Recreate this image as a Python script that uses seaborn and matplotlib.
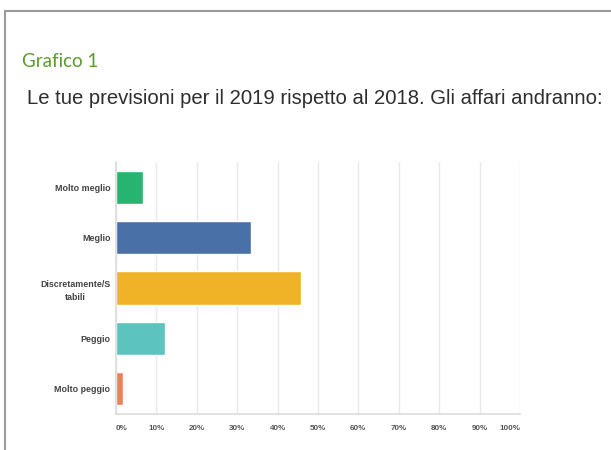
import matplotlib
matplotlib.use("Agg")
import matplotlib.pyplot as plt
import seaborn as sns
import pandas as pd
from matplotlib.lines import Line2D

categories = ["Molto meglio", "Meglio", "Discretamente/S\ntabili", "Peggio", "Molto peggio"]
values = [6.7, 33.4, 45.7, 12.1, 1.8]
colors = ["#27b470", "#4a70a8", "#f0b226", "#5cc3bf", "#e8835b"]
xticks = [0, 10, 20, 30, 40, 50, 60, 70, 80, 90, 100]
xticklabels = [f"{t}%" for t in xticks]

df = pd.DataFrame({"cat": categories, "val": values})

sns.set_theme(style="white")
plt.rcParams["font.family"] = ["Liberation Sans", "DejaVu Sans"]

fig = plt.figure(figsize=(6.11, 4.5), dpi=100)
ax = fig.add_axes([116/611, 1-414/450, 404/611, 252/450])

sns.barplot(data=df, x="val", y="cat", hue="cat", palette=colors, legend=False,
            width=0.66, ax=ax, saturation=1, orient="h")

ax.set_xlim(0, 100)
ax.set_ylim(4.5, -0.5)
ax.set_xticks(xticks)
ax.set_xticklabels(xticklabels, fontsize=5.8, fontweight="bold", color="#555555")
xl = ax.get_xticklabels()
xl[0].set_horizontalalignment("left")
xl[-1].set_horizontalalignment("right")
ax.tick_params(axis="y", labelsize=6.4, labelcolor="#444444", length=0, pad=4)
ax.tick_params(axis="x", length=0, pad=8)
for lbl in ax.get_yticklabels():
    lbl.set_fontweight("bold")
    lbl.set_multialignment("center")
    lbl.set_linespacing(1.6)
ax.set_xlabel("")
ax.set_ylabel("")
ax.grid(axis="x", color="#e9e9e9", linewidth=1)
ax.set_axisbelow(True)
for s in ["top", "right"]:
    ax.spines[s].set_visible(False)
ax.spines["left"].set_color("#dddddd")
ax.spines["bottom"].set_color("#dddddd")

fig.text(22/611, 1-67/450, "Grafico 1", fontsize=13.5, color="#5a9a2e",
         family=["Lato", "DejaVu Sans"])
fig.text(27/611, 1-104/450, "Le tue previsioni per il 2019 rispetto al 2018. Gli affari andranno:",
         fontsize=14.6, color="#2e2e2e")

fig.add_artist(Line2D([5/611, 1], [1-11/450, 1-11/450], transform=fig.transFigure,
                      color="#9a9a9a", linewidth=1.5))
fig.add_artist(Line2D([5/611, 5/611], [0, 1-11/450], transform=fig.transFigure,
                      color="#9a9a9a", linewidth=1.5))

fig.savefig("out.png", dpi=100)
